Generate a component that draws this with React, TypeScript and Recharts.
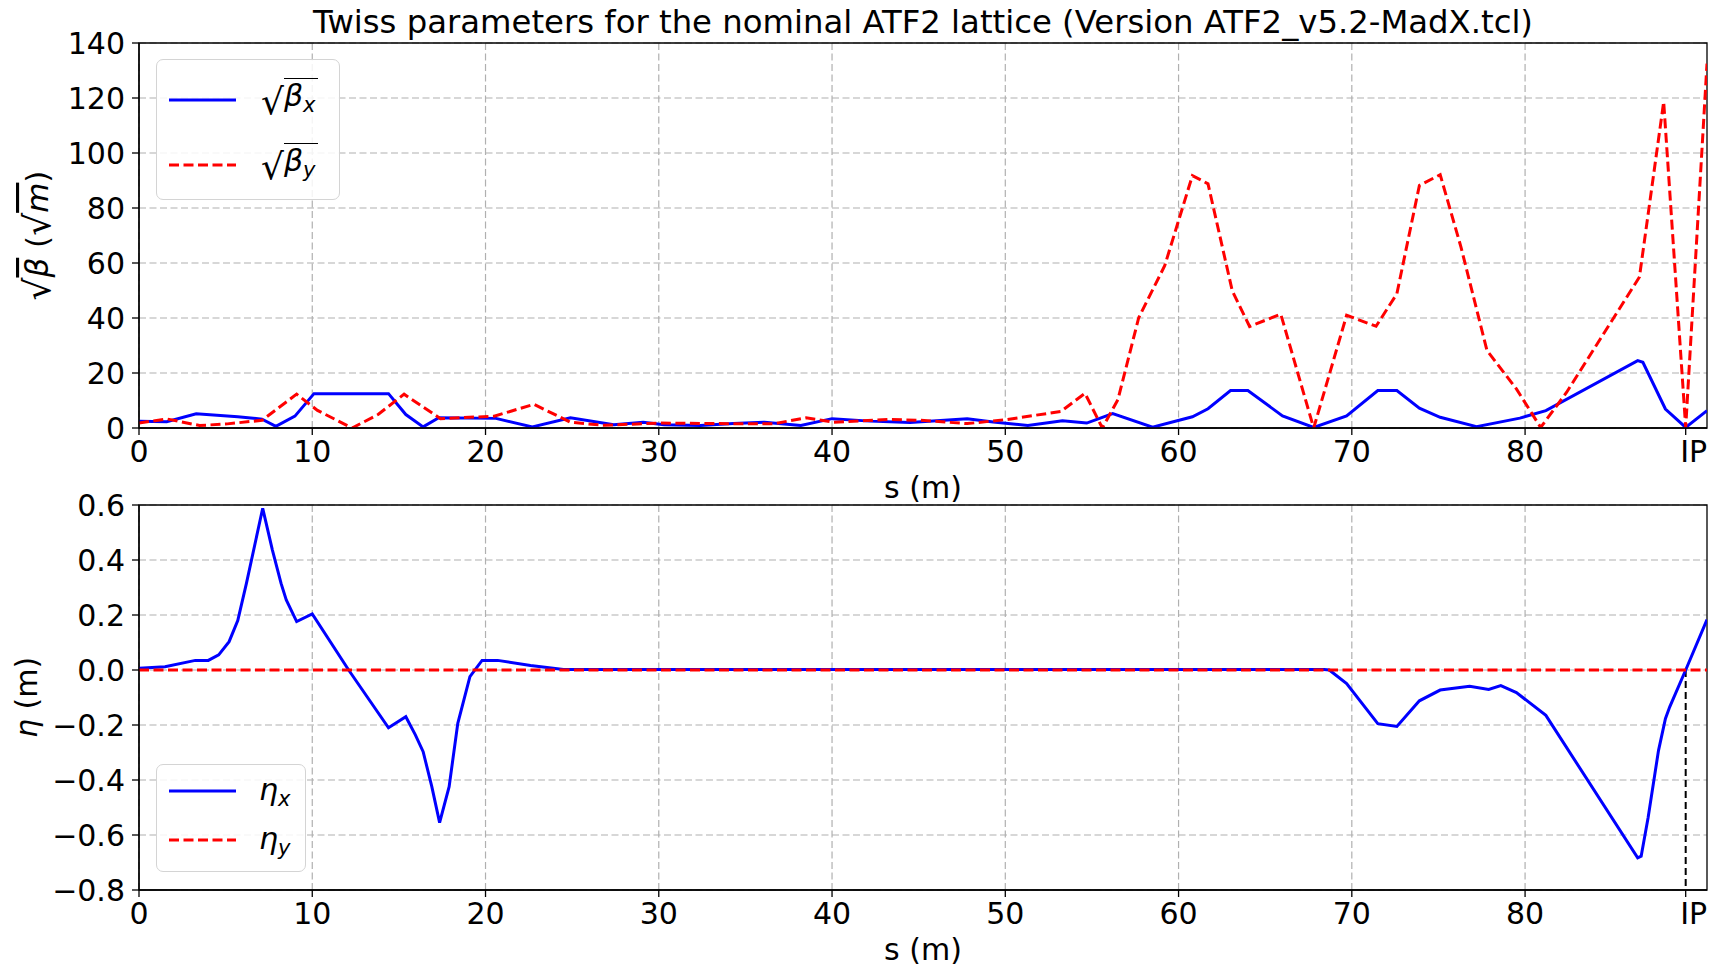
import React from 'react'
import { LineChart, Line, XAxis, YAxis, CartesianGrid, ReferenceArea, ReferenceLine, Legend, Label } from 'recharts'

const FONT = '"DejaVu Sans", sans-serif'
const S_MAX = 90.5
const S_IP = 89.27

const sTicks = [0, 10, 20, 30, 40, 50, 60, 70, 80, S_IP]
const sGrid = [0, 10, 20, 30, 40, 50, 60, 70, 80]
const betaTicks = [0, 20, 40, 60, 80, 100, 120, 140]
const etaTicks = [-0.8, -0.6, -0.4, -0.2, 0, 0.2, 0.4, 0.6]

// [s (m), sqrt(beta_x)]
const sqrtBetaX: [number, number][] = [
  [0, 2.5], [1.6, 2.3], [3.3, 5.2], [5.7, 4.1], [7.1, 3.2], [7.9, 0.6], [9.0, 4.3],
  [10.1, 12.5], [14.4, 12.5], [15.4, 4.9], [16.4, 0.4], [17.3, 3.7], [20.6, 3.5],
  [22.7, 0.4], [24.9, 3.7], [27.4, 1.2], [29.1, 2.1], [30.3, 1.2], [32.4, 0.9],
  [34.3, 1.6], [36.1, 2.1], [38.2, 0.9], [40.0, 3.4], [42.2, 2.5], [44.5, 2.0],
  [47.8, 3.4], [49.3, 2.2], [51.3, 0.9], [53.3, 2.6], [54.7, 1.8], [56.2, 5.2],
  [58.5, 0.3], [60.8, 4.1], [61.7, 7.0], [63.0, 13.6], [64.0, 13.6], [66.0, 4.4],
  [67.8, 0.2], [69.7, 4.4], [71.5, 13.6], [72.6, 13.6], [73.9, 7.2], [75.1, 3.9],
  [77.2, 0.5], [79.7, 3.6], [81.2, 6.3], [86.5, 24.5], [86.8, 23.9], [88.1, 6.9],
  [89.27, 0.2], [90.5, 6.3],
]

// [s (m), sqrt(beta_y)]
const sqrtBetaY: [number, number][] = [
  [0, 1.8], [1.6, 3.3], [3.5, 0.9], [5.1, 1.5], [7.1, 2.8], [9.1, 12.3], [10.3, 6.4],
  [12.3, 0], [13.8, 4.9], [15.3, 12.3], [17.4, 3.4], [20.5, 4.3], [22.8, 8.6],
  [24.9, 2.1], [26.8, 1.0], [30.1, 1.8], [33.5, 1.6], [36.6, 1.5], [38.5, 3.7],
  [40.1, 2.1], [43.2, 3.1], [45.1, 2.8], [47.8, 1.6], [50.1, 3.1], [53.2, 6.0],
  [54.6, 12.6], [55.6, 0], [56.5, 10.3], [57.7, 40.1], [59.2, 59], [60.8, 91.8],
  [61.7, 88.8], [63.1, 49.9], [64.1, 36.9], [65.9, 41.4], [67.8, 0], [69.7, 41],
  [71.4, 37], [72.6, 48.8], [73.9, 88.2], [75.1, 92.1], [76.3, 65.8], [77.8, 28.2],
  [79.5, 14.2], [80.9, 0.2], [82.4, 13], [86.6, 54.9], [88.0, 118.6], [89.27, 0.2],
  [90.5, 132.5],
]

// [s (m), eta_x (m)]
const etaX: [number, number][] = [
  [0, 0.006], [1.5, 0.012], [3.25, 0.035], [4.0, 0.035], [4.6, 0.055], [5.2, 0.103],
  [5.7, 0.18], [6.2, 0.315], [7.14, 0.588], [7.7, 0.436], [8.2, 0.315], [8.5, 0.255],
  [9.1, 0.176], [10.0, 0.204], [12.1, 0], [14.4, -0.21], [15.4, -0.17], [15.95, -0.236],
  [16.4, -0.297], [16.9, -0.424], [17.35, -0.555], [17.9, -0.424], [18.4, -0.194],
  [19.1, -0.024], [19.8, 0.035], [20.7, 0.035], [22.6, 0.016], [24.5, 0.002],
  [68.4, 0.002], [68.7, 0], [69.7, -0.049], [71.5, -0.195], [72.6, -0.205],
  [73.9, -0.112], [75.1, -0.073], [76.8, -0.059], [77.9, -0.071], [78.6, -0.057],
  [79.5, -0.082], [81.2, -0.165], [86.5, -0.683], [86.7, -0.677], [87.1, -0.537],
  [87.7, -0.293], [88.1, -0.177], [88.35, -0.134], [89.27, 0], [90.5, 0.183],
]

// [s (m), eta_y (m)]
const etaY: [number, number][] = [[0, 0], [90.5, 0]]

const toRows = (pts: [number, number][]) => pts.map(([s, v]) => ({ s, v }))

const BLUE = '#0000ff'
const RED = '#ff0000'
const DASH = '10 4.5'
const GRID = '7 3.5'

const tickStyle = { fontSize: 30, fill: '#000', fontFamily: FONT }
const axisStroke = { stroke: '#000', strokeWidth: 1.3 }

const fmtEta = (v: number) => (v < 0 ? '\u2212' + Math.abs(v).toFixed(1) : v.toFixed(1))

const STick = (props: any) => {
  const { x, y, payload } = props
  const ip = payload.value === S_IP
  return (
    <text x={x + (ip ? 8 : 0)} y={y} dy="0.71em" textAnchor="middle" {...tickStyle}>
      {ip ? 'IP' : payload.value}
    </text>
  )
}

const SLabel = ({ viewBox }: any) => {
  const vb = viewBox || { x: 139, y: 428, width: 1568, height: 72 }
  return (
    <text x={vb.x + vb.width / 2} y={vb.y + 59} textAnchor="middle" dominantBaseline="central" {...tickStyle}>
      s (m)
    </text>
  )
}

const BetaYLabel = ({ viewBox }: any) => {
  const vb = viewBox || { x: 0, y: 43, width: 139, height: 385 }
  return (
    <text transform={`translate(${vb.x + 37},${vb.y + vb.height / 2}) rotate(-90)`} textAnchor="middle" dominantBaseline="central" {...tickStyle} fontSize={31}>
      <tspan fontSize={36}>√</tspan>
      <tspan fontStyle="italic" style={{ textDecoration: 'overline' }}>β</tspan>
      <tspan> (</tspan>
      <tspan fontSize={36}>√</tspan>
      <tspan fontStyle="italic" style={{ textDecoration: 'overline' }}>m</tspan>
      <tspan>)</tspan>
    </text>
  )
}

const EtaYLabel = ({ viewBox }: any) => {
  const vb = viewBox || { x: 0, y: 45, width: 139, height: 385 }
  return (
    <text transform={`translate(${vb.x + 26},${vb.y + vb.height / 2}) rotate(-90)`} textAnchor="middle" dominantBaseline="central" {...tickStyle}>
      <tspan fontStyle="italic">η</tspan>
      <tspan> (m)</tspan>
    </text>
  )
}

const SqrtBeta = ({ sub }: { sub: string }) => (
  <span style={{ whiteSpace: 'nowrap', display: 'inline-flex', alignItems: 'flex-end' }}>
    <span style={{ fontSize: 36, lineHeight: '40px' }}>√</span>
    <span style={{ borderTop: '1.5px solid #000', lineHeight: '34px', paddingRight: 2 }}>
      <i>β</i>
      <sub style={{ fontSize: 21, fontStyle: 'italic', verticalAlign: '-6px' }}>{sub}</sub>
    </span>
  </span>
)

const Eta = ({ sub }: { sub: string }) => (
  <span style={{ whiteSpace: 'nowrap' }}>
    <i>η</i>
    <sub style={{ fontSize: 21, fontStyle: 'italic', verticalAlign: '-6px' }}>{sub}</sub>
  </span>
)

const legendText: Record<string, React.ReactNode> = {
  bx: <SqrtBeta sub="x" />,
  by: <SqrtBeta sub="y" />,
  ex: <Eta sub="x" />,
  ey: <Eta sub="y" />,
}
const legendDash: Record<string, string | undefined> = { bx: undefined, by: DASH, ex: undefined, ey: DASH }

const makeLegend = (w: number, h: number, rowY: number[], textX: number) => (props: any) => {
  const items = props.payload || []
  return (
    <div
      style={{
        position: 'relative', width: w, height: h, boxSizing: 'border-box',
        border: '1.3px solid #d4d4d4', borderRadius: 7, background: 'rgba(255,255,255,0.85)',
        fontFamily: FONT, fontSize: 30, color: '#000',
      }}
    >
      {items.map((it: any, i: number) => (
        <div key={it.value} style={{ position: 'absolute', left: 0, top: rowY[i] - 30, height: 60, width: w, display: 'flex', alignItems: 'center' }}>
          <svg width={67} height={8} style={{ position: 'absolute', left: 12, top: 26 }}>
            <line x1={0} y1={4} x2={67} y2={4} stroke={it.color} strokeWidth={3} strokeDasharray={legendDash[it.value]} />
          </svg>
          <span style={{ position: 'absolute', left: textX, top: 0, height: 60, display: 'flex', alignItems: 'center' }}>
            {legendText[it.value]}
          </span>
        </div>
      ))}
    </div>
  )
}

const TopLegend = makeLegend(184, 141, [40, 105], 104)
const BottomLegend = makeLegend(150, 108, [26, 75], 102)

export default function App() {
  return (
    <div style={{ position: 'fixed', left: 0, top: 0, width: 1712, height: 965, background: '#fff', fontFamily: FONT }}>
      <div style={{ position: 'absolute', left: 139, top: 3, width: 1568, textAlign: 'center', fontSize: 32.3, lineHeight: '38px', color: '#000', whiteSpace: 'nowrap' }}>
        Twiss parameters for the nominal ATF2 lattice (Version ATF2_v5.2-MadX.tcl)
      </div>

      <div style={{ position: 'absolute', left: 0, top: 0 }}>
        <LineChart width={1712} height={525} margin={{ top: 43, right: 5, bottom: 0, left: 0 }}>
          <CartesianGrid stroke="#b0b0b0" strokeWidth={1.2} strokeDasharray={GRID} verticalValues={sGrid} />
          <XAxis dataKey="s" type="number" domain={[0, S_MAX]} ticks={sTicks} interval={0} allowDataOverflow
            height={97} tick={<STick />} tickSize={7} tickMargin={6} axisLine={axisStroke} tickLine={axisStroke}>
            <Label content={<SLabel />} />
          </XAxis>
          <YAxis type="number" domain={[0, 140]} ticks={betaTicks} interval={0} allowDataOverflow width={139}
            tick={tickStyle} tickSize={7} tickMargin={7} axisLine={axisStroke} tickLine={axisStroke}>
            <Label content={<BetaYLabel />} />
          </YAxis>
          <ReferenceArea x1={0} x2={S_MAX} y1={0} y2={140} fill="none" stroke="#000" strokeWidth={1.3} />
          <Line data={toRows(sqrtBetaX)} dataKey="v" name="bx" type="linear" stroke={BLUE} strokeWidth={3}
            dot={false} activeDot={false} isAnimationActive={false} />
          <Line data={toRows(sqrtBetaY)} dataKey="v" name="by" type="linear" stroke={RED} strokeWidth={3}
            strokeDasharray={DASH} dot={false} activeDot={false} isAnimationActive={false} />
          <Legend layout="vertical" align="center" verticalAlign="middle" content={TopLegend}
            wrapperStyle={{ left: 156, top: 59, width: 184, height: 141 }} />
        </LineChart>
      </div>

      <div style={{ position: 'absolute', left: 0, top: 460 }}>
        <LineChart width={1712} height={505} margin={{ top: 45, right: 5, bottom: 0, left: 0 }}>
          <CartesianGrid stroke="#b0b0b0" strokeWidth={1.2} strokeDasharray={GRID} verticalValues={sGrid} />
          <XAxis dataKey="s" type="number" domain={[0, S_MAX]} ticks={sTicks} interval={0} allowDataOverflow
            height={75} tick={<STick />} tickSize={7} tickMargin={6} axisLine={axisStroke} tickLine={axisStroke}>
            <Label content={<SLabel />} />
          </XAxis>
          <YAxis type="number" domain={[-0.8, 0.6]} ticks={etaTicks} interval={0} allowDataOverflow width={139}
            tick={tickStyle} tickFormatter={fmtEta} tickSize={7} tickMargin={7} axisLine={axisStroke} tickLine={axisStroke}>
            <Label content={<EtaYLabel />} />
          </YAxis>
          <ReferenceArea x1={0} x2={S_MAX} y1={-0.8} y2={0.6} fill="none" stroke="#000" strokeWidth={1.3} />
          <ReferenceLine segment={[{ x: S_IP, y: 0 }, { x: S_IP, y: -0.8 }]} stroke="#000" strokeWidth={2} strokeDasharray="7 4" />
          <Line data={toRows(etaX)} dataKey="v" name="ex" type="linear" stroke={BLUE} strokeWidth={3}
            dot={false} activeDot={false} isAnimationActive={false} />
          <Line data={toRows(etaY)} dataKey="v" name="ey" type="linear" stroke={RED} strokeWidth={3}
            strokeDasharray={DASH} dot={false} activeDot={false} isAnimationActive={false} />
          <Legend layout="vertical" align="center" verticalAlign="middle" content={BottomLegend}
            wrapperStyle={{ left: 156, top: 304, width: 150, height: 108 }} />
        </LineChart>
      </div>
    </div>
  )
}
